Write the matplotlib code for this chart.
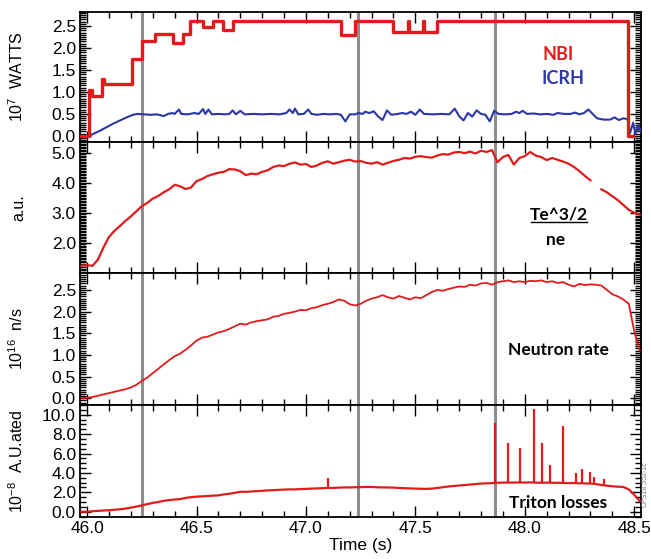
import numpy as np
import matplotlib.pyplot as plt
from matplotlib.ticker import MultipleLocator

# ---- data ----
# common time grid for the sampled traces (45.975 .. 48.525, step 0.025 s)
t_grid = np.round(45.975 + 0.025 * np.arange(103), 3)

# NBI power (10^7 W), step trace: switch times and level after each switch
nbi_t = [45.968, 46.009, 46.023, 46.069, 46.076, 46.206, 46.251, 46.311, 46.393, 46.439,
         46.471, 46.530, 46.576, 46.622, 46.667, 47.159, 47.225, 47.399, 47.467, 47.473,
         47.534, 47.540, 47.598, 48.473, 48.495]
nbi_v = [0.0, 1.05, 0.90, 1.30, 1.17, 1.75, 2.15, 2.32, 2.12, 2.33,
         2.62, 2.47, 2.62, 2.42, 2.62, 2.30, 2.62, 2.37, 2.62, 2.37,
         2.62, 2.37, 2.62, 0.0, 0.0]

# ICRH power (10^7 W)
icrh_t = [45.97, 46.01, 46.03, 46.06, 46.09, 46.12, 46.15, 46.18, 46.21, 46.23,
          46.26, 46.29, 46.32, 46.35, 46.37, 46.39, 46.40, 46.42, 46.43, 46.46,
          46.49, 46.51, 46.53, 46.54, 46.555, 46.57, 46.60, 46.63, 46.65, 46.665,
          46.68, 46.70, 46.72, 46.76, 46.80, 46.84, 46.88, 46.91, 46.925, 46.94,
          46.95, 46.965, 46.99, 47.01, 47.025, 47.05, 47.08, 47.11, 47.14, 47.16,
          47.18, 47.20, 47.225, 47.24, 47.26, 47.27, 47.29, 47.31, 47.33, 47.35,
          47.37, 47.39, 47.42, 47.44, 47.46, 47.48, 47.50, 47.52, 47.54, 47.58,
          47.62, 47.655, 47.68, 47.70, 47.72, 47.74, 47.76, 47.78, 47.80, 47.82,
          47.84, 47.86, 47.88, 47.91, 47.94, 47.96, 47.975, 47.99, 48.01, 48.04,
          48.07, 48.10, 48.13, 48.15, 48.18, 48.21, 48.23, 48.25, 48.27, 48.29,
          48.31, 48.33, 48.36, 48.39, 48.41, 48.43, 48.45, 48.47, 48.48, 48.495,
          48.505, 48.52, 48.53]
icrh_v = [0.0, 0.0, 0.05, 0.12, 0.20, 0.28, 0.35, 0.42, 0.48, 0.50,
          0.49, 0.48, 0.49, 0.45, 0.50, 0.52, 0.50, 0.60, 0.50, 0.49,
          0.52, 0.50, 0.61, 0.50, 0.60, 0.49, 0.50, 0.49, 0.50, 0.58,
          0.49, 0.57, 0.49, 0.50, 0.49, 0.50, 0.49, 0.52, 0.60, 0.52,
          0.62, 0.49, 0.50, 0.60, 0.50, 0.48, 0.50, 0.49, 0.50, 0.48,
          0.33, 0.49, 0.49, 0.52, 0.50, 0.55, 0.52, 0.56, 0.44, 0.36,
          0.58, 0.48, 0.50, 0.52, 0.50, 0.55, 0.48, 0.60, 0.50, 0.49,
          0.50, 0.49, 0.62, 0.45, 0.35, 0.52, 0.44, 0.58, 0.50, 0.48,
          0.33, 0.57, 0.50, 0.49, 0.50, 0.55, 0.52, 0.57, 0.50, 0.51,
          0.49, 0.50, 0.48, 0.52, 0.50, 0.50, 0.53, 0.49, 0.52, 0.60,
          0.50, 0.40, 0.37, 0.37, 0.42, 0.36, 0.40, 0.38, 0.05, 0.30,
          0.05, 0.25, 0.10]

# Te^3/2 / ne (a.u.) on t_grid, nan = gap in the trace
te_v = [1.25, 1.26, 1.24, 1.45, 1.85, 2.20, 2.40, 2.56, 2.73, 2.88,
        3.05, 3.22, 3.33, 3.47, 3.56, 3.68, 3.78, 3.93, 3.88, 3.79,
        3.84, 4.05, 4.12, 4.22, 4.28, 4.33, 4.36, 4.45, 4.44, 4.38,
        4.25, 4.30, 4.28, 4.36, 4.41, 4.52, 4.57, 4.55, 4.63, 4.67,
        4.60, 4.62, 4.52, 4.57, 4.66, 4.71, 4.63, 4.68, 4.73, 4.76,
        4.70, 4.72, 4.66, 4.63, 4.68, 4.60, 4.66, 4.72, 4.76, 4.82,
        4.80, 4.86, 4.88, 4.85, 4.83, 4.90, 4.95, 4.93, 5.00, 5.02,
        4.98, 5.03, 4.97, 5.06, 5.02, 5.08, 4.68, 4.85, 4.92, 4.60,
        4.82, 4.88, 5.02, 4.90, 4.85, 4.75, 4.82, 4.76, 4.70, 4.63,
        4.52, 4.38, 4.22, 4.08, np.nan, 3.78, 3.68, 3.55, 3.42, 3.26,
        3.10, 3.00, 2.94]

# neutron rate (10^16 n/s) on t_grid
neut_v = [0.01, 0.01, 0.03, 0.06, 0.09, 0.12, 0.15, 0.18, 0.21, 0.25,
          0.31, 0.40, 0.48, 0.58, 0.68, 0.78, 0.88, 0.97, 1.03, 1.12,
          1.22, 1.33, 1.40, 1.42, 1.47, 1.52, 1.55, 1.60, 1.66, 1.72,
          1.70, 1.75, 1.78, 1.80, 1.82, 1.88, 1.90, 1.95, 1.97, 2.00,
          2.04, 2.03, 2.08, 2.10, 2.15, 2.18, 2.22, 2.28, 2.25, 2.17,
          2.14, 2.18, 2.25, 2.30, 2.33, 2.38, 2.33, 2.30, 2.36, 2.32,
          2.28, 2.33, 2.31, 2.38, 2.45, 2.50, 2.48, 2.52, 2.55, 2.58,
          2.57, 2.62, 2.60, 2.65, 2.66, 2.62, 2.68, 2.70, 2.72, 2.68,
          2.70, 2.68, 2.71, 2.70, 2.72, 2.68, 2.70, 2.66, 2.68, 2.62,
          2.58, 2.64, 2.61, 2.63, 2.62, 2.60, 2.50, 2.40, 2.35, 2.28,
          2.18, 1.55, 1.10]

# triton losses baseline (10^-8 a.u.) on t_grid
trit_v = [0.00, 0.00, 0.05, 0.08, 0.12, 0.15, 0.20, 0.25, 0.32, 0.42,
          0.52, 0.65, 0.78, 0.90, 1.00, 1.12, 1.20, 1.25, 1.30, 1.42,
          1.50, 1.55, 1.58, 1.62, 1.65, 1.68, 1.78, 1.85, 1.95, 2.05,
          2.05, 2.08, 2.12, 2.15, 2.20, 2.22, 2.25, 2.28, 2.30, 2.30,
          2.33, 2.35, 2.38, 2.40, 2.42, 2.45, 2.45, 2.48, 2.50, 2.50,
          2.52, 2.53, 2.55, 2.55, 2.52, 2.50, 2.50, 2.48, 2.45, 2.42,
          2.40, 2.38, 2.36, 2.35, 2.38, 2.45, 2.52, 2.60, 2.65, 2.70,
          2.75, 2.80, 2.85, 2.90, 2.92, 2.95, 2.98, 3.00, 3.00, 3.00,
          3.02, 3.00, 3.02, 3.00, 2.98, 3.00, 2.98, 2.98, 2.96, 2.95,
          2.95, 2.93, 2.92, 2.90, 2.85, 2.75, 2.68, 2.62, 2.58, 2.55,
          2.30, 1.75, 1.10]

# triton loss spikes: time and peak height
spike_t = [47.101, 47.865, 47.921, 47.979, 48.040, 48.078, 48.113, 48.174,
           48.235, 48.261, 48.296, 48.317, 48.363]
spike_v = [3.45, 9.1, 7.1, 6.6, 10.6, 7.1, 4.8, 8.8, 4.0, 4.4, 4.1, 3.6, 3.35]

# grey marker lines
marker_t = [46.25, 47.237, 47.865]

RED = '#e01b1b'
BLUE = '#2b36a8'
GREY = '#8e8e8e'

plt.rcParams['font.family'] = 'sans-serif'
plt.rcParams['font.sans-serif'] = ['Liberation Sans']
plt.rcParams['mathtext.fontset'] = 'custom'
plt.rcParams['mathtext.rm'] = 'Liberation Sans'
plt.rcParams['mathtext.it'] = 'Liberation Sans'
bold_font = 'Lato'

fig = plt.figure(figsize=(6.51, 5.59), dpi=100)
gs = fig.add_gridspec(4, 1, height_ratios=[130, 131, 132, 112], hspace=0,
                      left=0.123, right=0.985, top=0.9785, bottom=0.0751)
axes = [fig.add_subplot(gs[i]) for i in range(4)]

ylims = [(-0.14, 2.82), (1.0, 5.35), (-0.155, 2.89), (-0.55, 11.0)]
yticks = [np.arange(0, 2.51, 0.5), np.arange(2, 5.01, 1.0),
          np.arange(0, 2.51, 0.5), np.arange(0, 10.01, 2.0)]
yminor = [0.05, 0.05, 0.05, 0.5]
ylabels = ['10$^7$  WATTS', 'a.u.', '10$^{16}$  n/s', '10$^{-8}$  A.U.ated']

for i, ax in enumerate(axes):
    ax.set_xlim(45.968, 48.532)
    ax.set_ylim(*ylims[i])
    ax.set_yticks(yticks[i])
    ax.set_yticklabels(['%.1f' % v for v in yticks[i]])
    ax.yaxis.set_minor_locator(MultipleLocator(yminor[i]))
    ax.xaxis.set_major_locator(MultipleLocator(0.5))
    ax.xaxis.set_minor_locator(MultipleLocator(0.1))
    ax.tick_params(which='both', direction='in', top=True, right=True,
                   labelsize=12.5, pad=3, width=1)
    ax.tick_params(which='major', length=8)
    ax.tick_params(which='minor', length=4)
    for s in ax.spines.values():
        s.set_linewidth(1.3)
    ax.set_ylabel(ylabels[i], fontsize=11.5)
    ax.yaxis.set_label_coords(-0.096, 0.5)
    for mt in marker_t:
        ax.axvline(mt, color=GREY, lw=2.2, zorder=1)
    if i < 3:
        ax.tick_params(labelbottom=False)

ax1, ax2, ax3, ax4 = axes

ax1.plot(icrh_t, icrh_v, color=BLUE, lw=1.5, zorder=3)
ax1.plot(nbi_t, nbi_v, color=RED, lw=2.4, drawstyle='steps-post', zorder=4)
ax1.text(0.852, 0.67, 'NBI', transform=ax1.transAxes, color=RED, va='center',
         fontsize=13, fontweight='bold', family=bold_font, ha='center')
ax1.text(0.861, 0.485, 'ICRH', transform=ax1.transAxes, color=BLUE, va='center',
         fontsize=13, fontweight='bold', family=bold_font, ha='center')

ax2.plot(t_grid, te_v, color=RED, lw=1.6, zorder=3)
ax2.text(0.854, 0.445, 'Te^3/2', transform=ax2.transAxes, fontsize=12.5,
         fontweight='bold', family=bold_font, ha='center', va='center')
ax2.plot([0.804, 0.904], [0.39, 0.39], transform=ax2.transAxes,
         color='black', lw=1.0)
ax2.text(0.847, 0.25, 'ne', transform=ax2.transAxes, fontsize=12.5,
         fontweight='bold', family=bold_font, ha='center', va='center')

ax3.plot(t_grid, neut_v, color=RED, lw=1.3, zorder=3)
ax3.text(0.852, 0.417, 'Neutron rate', transform=ax3.transAxes, fontsize=12.5,
         fontweight='bold', family=bold_font, ha='center', va='center')

ax4.plot(t_grid, trit_v, color=RED, lw=1.6, zorder=3)
ax4.vlines(spike_t, np.interp(spike_t, t_grid, trit_v), spike_v,
           color=RED, lw=1.6, zorder=3)
ax4.text(0.852, 0.125, 'Triton losses', transform=ax4.transAxes, fontsize=12.5,
         fontweight='bold', family=bold_font, ha='center', va='center')
ax4.set_xticks([46.0, 46.5, 47.0, 47.5, 48.0, 48.5])
ax4.set_xticklabels(['46.0', '46.5', '47.0', '47.5', '48.0', '48.5'])
ax4.set_xlabel('Time (s)', fontsize=12.5, labelpad=1)

fig.text(0.991, 0.093, 'CPS18.552-1c', rotation=90, fontsize=5, color='#777777',
         ha='center', va='bottom')

plt.savefig('out.png', dpi=100)
